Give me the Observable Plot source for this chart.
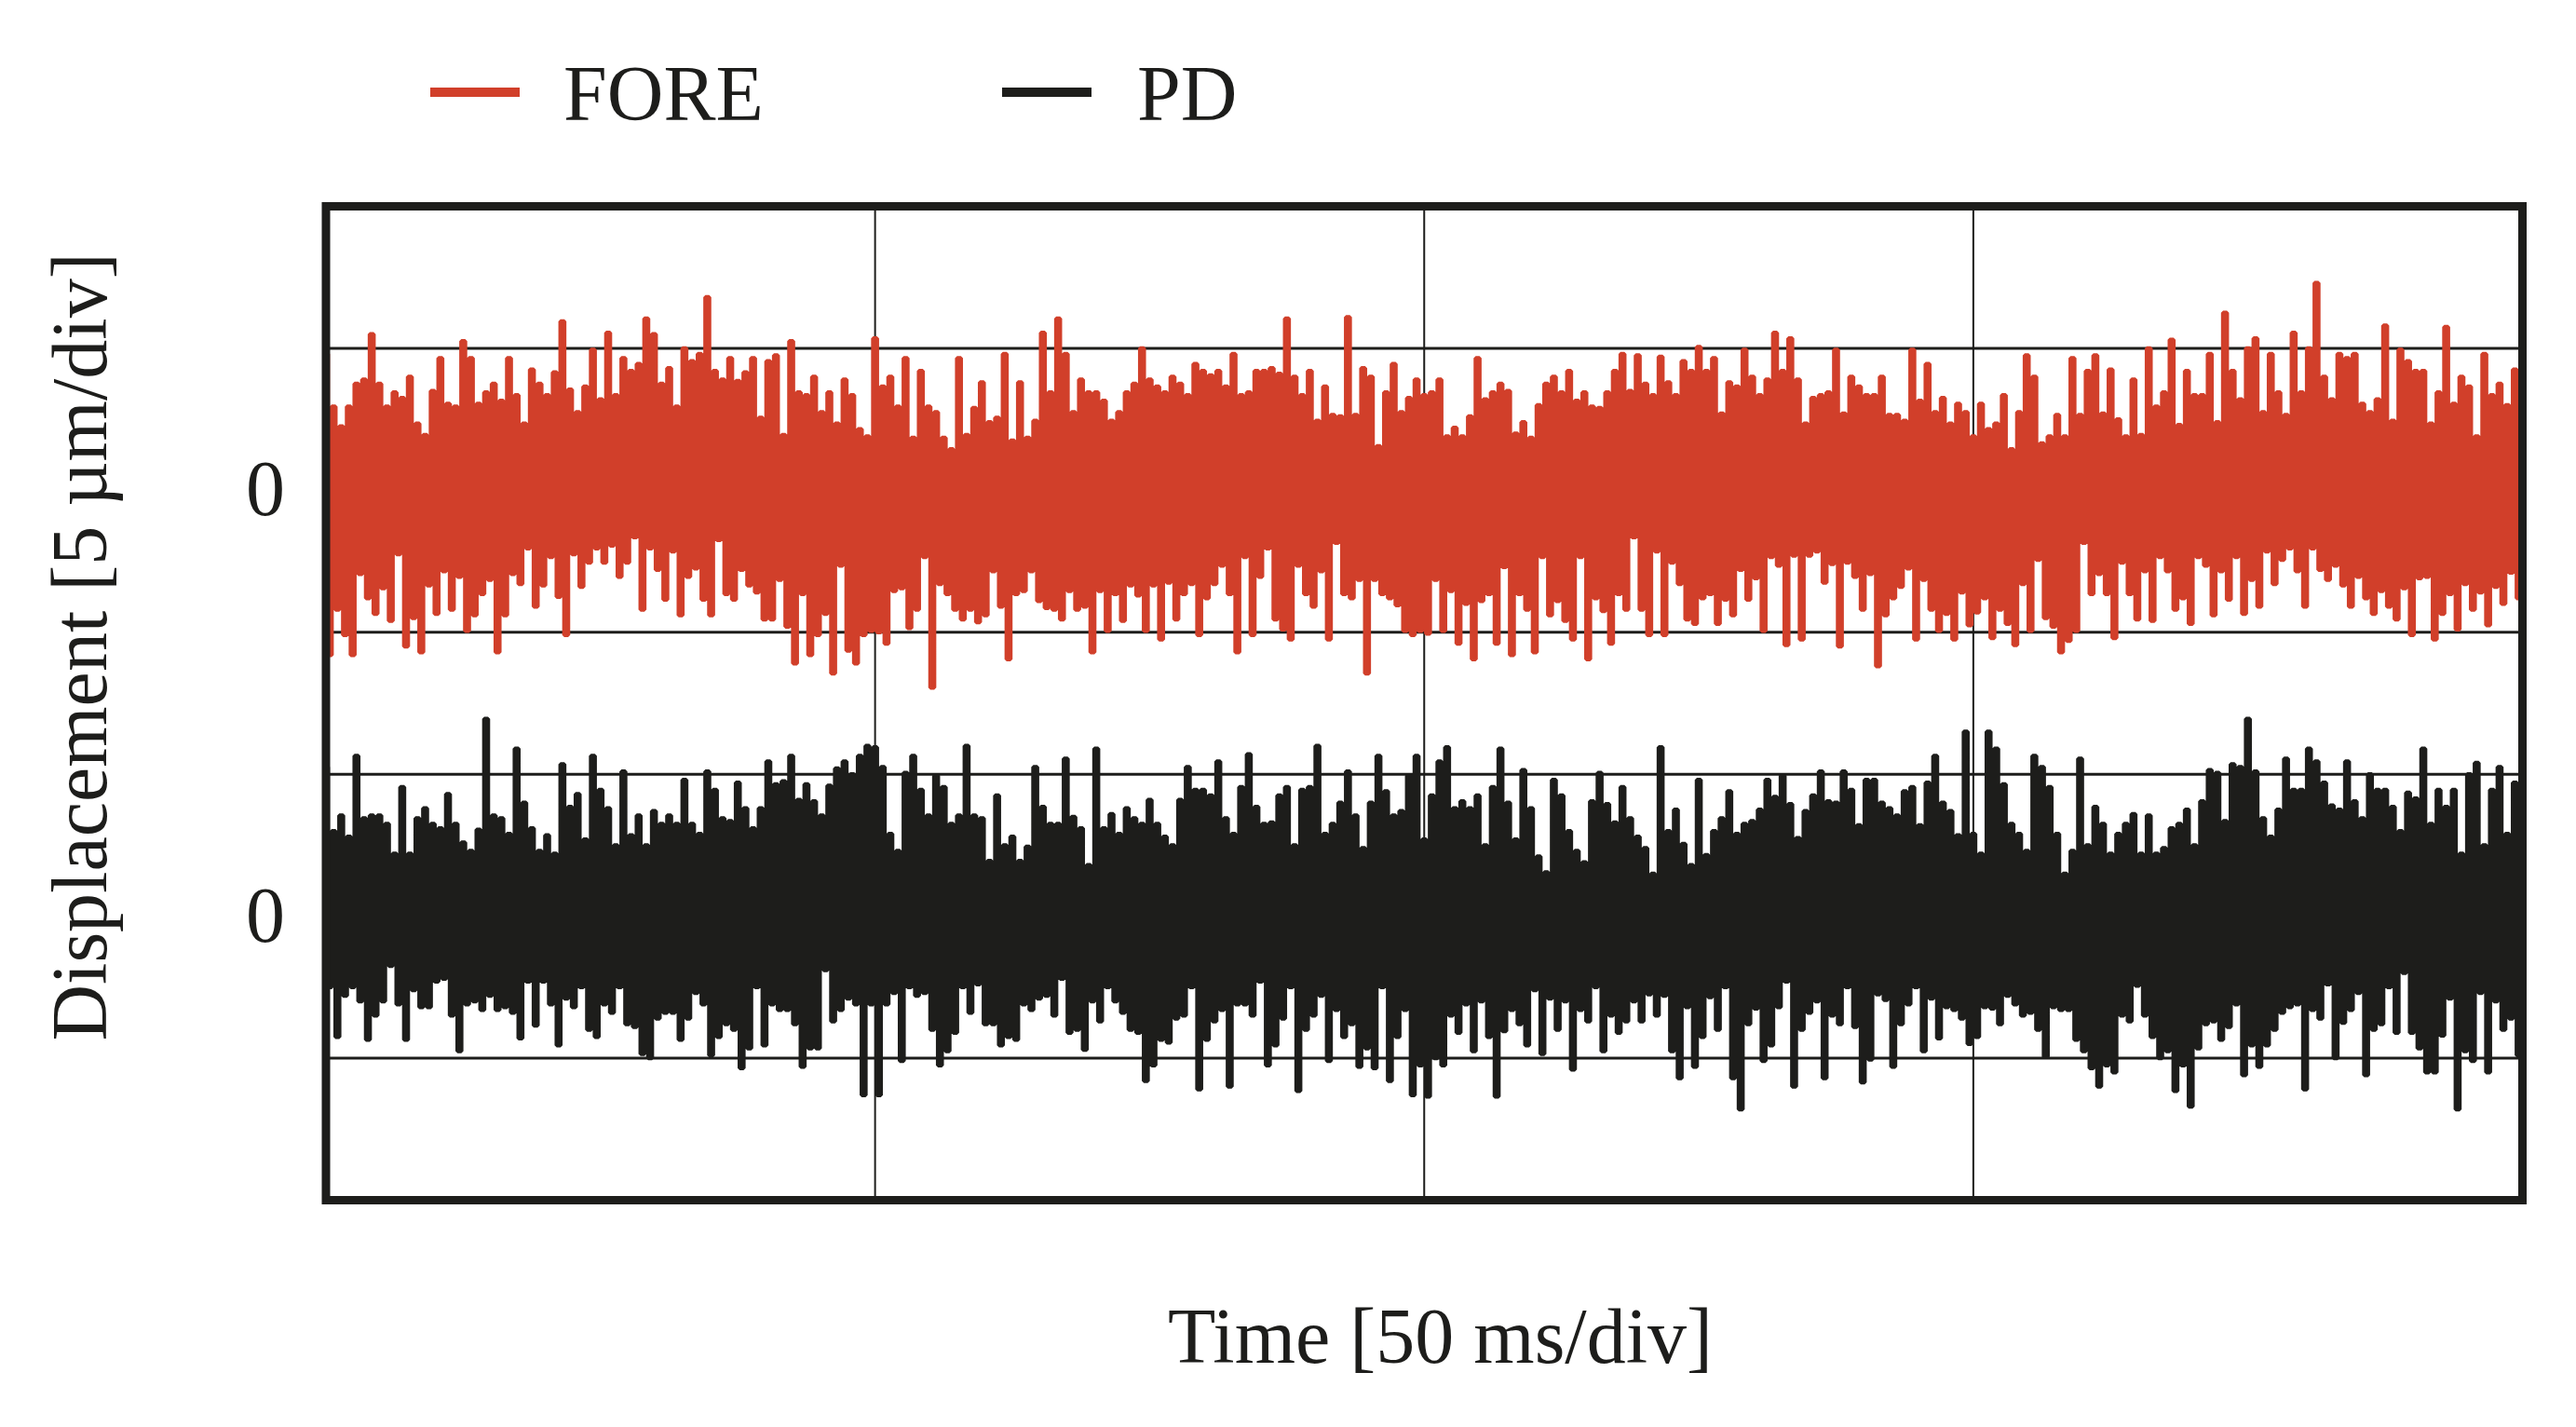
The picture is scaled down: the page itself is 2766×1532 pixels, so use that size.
<!DOCTYPE html>
<html>
<head>
<meta charset="utf-8">
<script src="https://cdn.jsdelivr.net/npm/d3@7"></script>
<script src="https://cdn.jsdelivr.net/npm/@observablehq/plot@0.6"></script>
<style>
  html, body { margin: 0; padding: 0; background: #ffffff; }
  #wrap { position: relative; width: 2766px; height: 1532px; overflow: hidden; }
  #legend { position: absolute; left: 0; top: 0; width: 2766px; height: 200px; z-index: 2;
            font-family: "Liberation Serif", "Times New Roman", serif; color: #1d1d1b; }
  .sw { position: absolute; top: 94px; width: 96px; height: 10px; }
  .lb { position: absolute; top: 59px; font-size: 84px; line-height: 84px; white-space: nowrap; }
</style>
</head>
<body>
<div id="wrap">
  <div id="legend">
    <div class="sw" style="left:462px;background:#d13f2a"></div>
    <div class="lb" style="left:605px">FORE</div>
    <div class="sw" style="left:1076px;background:#1d1d1b"></div>
    <div class="lb" style="left:1221px">PD</div>
  </div>
  <div id="chart"></div>
</div>
<script>
// ---- data (values in 1/100 of a division, 5 µm/div), one spike top + one spike bottom per step ----
const seriesNames = ["FORE", "PD"];
const zeroLevels = [2, 5];          // PD trace centred at division 2, FORE at division 5
const gridLevels = [1, 3, 4, 6];
const timeDivs = [1, 2, 3];
const xLabel = "Time [50 ms/div]";
const yLabel = "Displacement [5 µm/div]";

const foreHiQ1 = [96,59,45,59,75,78,110,75,59,69,65,80,47,39,70,93,61,59,105,93,61,69,75,63,93,67,47,85,75,67,83,119,71,55,73,99,64,111,67,93,84,89,121,110,75,86,59,100,91,96,136,84,78,93,77,83,93,51,91,95,39,105,69,67,80,55,69,47,78,67,43,38];
const foreLoQ1 = [-116,-84,-102,-116,-59,-76,-87,-69,-92,-45,-110,-90,-114,-67,-87,-57,-84,-61,-99,-88,-73,-63,-114,-88,-59,-66,-41,-82,-67,-47,-75,-102,-45,-68,-51,-41,-51,-39,-61,-51,-33,-84,-41,-56,-77,-43,-88,-61,-55,-77,-88,-35,-73,-77,-56,-67,-72,-91,-91,-63,-96,-122,-73,-116,-102,-87,-129,-53,-113,-122,-102,-99];
const foreHiQ2 = [107,73,80,59,93,37,84,59,55,37,29,93,39,58,76,48,51,96,35,76,37,49,111,69,121,96,55,78,69,69,63,49,55,69,75,100,78,73,69,80,75,67,89,84,81,84,73,96,67,69,84,84,86,82,121,80,67,84,49,73,53,52,122,53,86,80,31,69,89,55,65,78];
const foreLoQ2 = [-100,-108,-71,-69,-97,-84,-47,-139,-66,-73,-84,-91,-84,-93,-88,-57,-82,-119,-73,-71,-57,-78,-83,-84,-91,-71,-84,-82,-114,-71,-99,-73,-92,-67,-74,-99,-67,-105,-65,-91,-73,-66,-102,-76,-66,-53,-73,-114,-47,-102,-61,-41,-91,-98,-105,-53,-73,-82,-57,-105,-37,-73,-76,-63,-129,-63,-73,-76,-81,-99,-102,-99];
const foreHiQ3 = [67,69,78,38,44,38,52,93,64,69,75,70,40,48,37,60,75,80,69,84,63,69,59,58,69,84,96,70,95,75,67,94,76,67,91,84,101,84,93,54,76,73,99,80,67,78,111,84,107,78,47,65,67,69,99,54,80,73,67,67,80,53,53,49,99,63,89,55,65,47,61,55];
const foreLoQ3 = [-101,-63,-99,-71,-108,-80,-119,-78,-73,-108,-54,-116,-73,-84,-114,-47,-88,-78,-92,-105,-47,-119,-76,-85,-108,-73,-84,-33,-84,-102,-43,-102,-51,-66,-91,-94,-76,-73,-94,-77,-88,-56,-77,-62,-99,-47,-53,-109,-46,-105,-46,-43,-65,-52,-110,-51,-61,-84,-59,-124,-88,-76,-68,-55,-105,-63,-84,-99,-87,-105,-72,-95];
const foreHiQ4 = [38,61,43,47,67,29,55,95,80,33,38,53,38,93,53,84,95,54,85,50,38,78,39,100,59,69,106,46,84,67,67,96,48,125,84,64,100,107,55,96,69,53,111,69,100,146,80,64,96,93,96,61,55,64,116,49,99,91,84,84,47,69,115,61,80,73,38,96,67,75,60,85];
const foreLoQ4 = [-86,-76,-104,-84,-94,-109,-66,-99,-49,-90,-96,-114,-106,-99,-37,-73,-59,-73,-104,-51,-73,-91,-57,-92,-47,-57,-84,-76,-94,-47,-53,-88,-57,-77,-47,-87,-63,-82,-43,-66,-49,-41,-57,-82,-41,-56,-63,-53,-67,-82,-61,-76,-87,-71,-82,-91,-69,-102,-62,-61,-105,-87,-73,-98,-66,-84,-72,-95,-68,-80,-58,-76];

const pdHiQ1 = [105,60,71,56,113,69,71,71,65,44,91,44,69,76,65,62,86,65,52,46,61,139,71,69,58,118,80,62,46,57,44,107,77,86,54,113,89,76,50,102,57,71,50,74,65,71,65,96,65,58,102,89,69,67,94,76,62,76,109,93,95,113,82,93,81,71,92,104,109,100,113,120];
const pdLoQ1 = [-50,-85,-56,-50,-60,-87,-70,-60,-35,-62,-87,-52,-64,-64,-46,-44,-70,-95,-62,-60,-66,-56,-66,-64,-68,-86,-46,-77,-46,-62,-91,-58,-64,-50,-80,-85,-62,-68,-50,-76,-78,-97,-100,-72,-68,-68,-87,-72,-54,-62,-98,-85,-76,-80,-107,-93,-50,-91,-62,-66,-66,-76,-106,-93,-93,-38,-74,-66,-58,-62,-126,-62];
const pdHiQ2 = [119,105,58,46,101,113,89,71,99,91,65,71,120,71,69,39,85,50,56,39,49,105,77,65,65,111,70,62,36,118,62,72,58,76,69,65,82,65,56,50,82,105,89,89,85,109,69,58,91,114,77,65,66,85,91,50,89,91,120,58,65,80,102,71,48,80,113,88,71,74,99,113];
const pdLoQ2 = [-126,-62,-54,-102,-50,-56,-54,-80,-105,-95,-82,-50,-68,-48,-76,-76,-91,-85,-87,-62,-66,-58,-56,-70,-44,-82,-80,-94,-60,-74,-50,-60,-68,-80,-82,-116,-105,-87,-89,-72,-70,-50,-122,-87,-74,-66,-120,-62,-62,-70,-46,-105,-91,-72,-50,-123,-80,-70,-56,-102,-66,-85,-76,-106,-93,-107,-50,-116,-85,-66,-126,-105];
const pdHiQ3 = [54,85,109,119,76,81,76,85,50,91,118,80,54,103,76,42,31,96,85,60,46,38,81,101,79,66,91,69,56,48,30,119,60,75,51,36,96,43,60,69,88,58,65,67,75,96,84,99,79,55,74,85,102,81,80,102,89,64,96,96,80,76,71,88,91,64,94,113,80,74,57,130];
const pdLoQ3 = [-127,-100,-105,-70,-82,-62,-95,-60,-85,-127,-81,-66,-76,-91,-52,-97,-58,-80,-60,-108,-66,-74,-50,-95,-70,-82,-74,-60,-74,-55,-70,-56,-95,-114,-64,-106,-85,-57,-80,-50,-114,-136,-76,-65,-102,-91,-64,-46,-120,-80,-68,-60,-114,-70,-76,-50,-78,-117,-101,-55,-59,-106,-76,-62,-50,-95,-58,-86,-64,-66,-72,-90];
const pdHiQ4 = [58,44,130,118,93,65,58,46,113,105,91,58,30,46,111,50,77,65,44,58,65,72,44,71,44,48,62,65,75,50,81,103,101,67,107,105,139,102,69,56,75,111,89,89,118,109,94,78,75,109,81,69,100,89,89,77,60,87,83,118,65,89,77,89,44,100,108,50,89,105,58,94];
const pdLoQ4 = [-85,-64,-65,-76,-56,-62,-70,-68,-80,-99,-64,-66,-66,-87,-95,-107,-120,-105,-110,-70,-74,-49,-70,-85,-100,-95,-123,-105,-134,-93,-76,-74,-87,-78,-62,-112,-91,-106,-91,-80,-68,-64,-62,-122,-66,-72,-48,-100,-75,-66,-54,-112,-80,-76,-50,-82,-40,-82,-93,-110,-110,-84,-58,-136,-95,-102,-54,-110,-60,-80,-72,-98];

// ---- build tables: each division (quarter) gets its tops/bottoms interleaved in time ----
function buildSeries(hiQs, loQs, offset) {
  const rows = [];
  hiQs.forEach((hi, q) => {
    const lo = loQs[q];
    const n = hi.length * 2;
    hi.forEach((h, i) => {
      rows.push({t: q + (2 * i) / n, v: offset + h / 100});
      rows.push({t: q + (2 * i + 1) / n, v: offset + lo[i] / 100});
    });
  });
  return rows;
}
const fore = buildSeries([foreHiQ1, foreHiQ2, foreHiQ3, foreHiQ4], [foreLoQ1, foreLoQ2, foreLoQ3, foreLoQ4], zeroLevels[1]);
const pd = buildSeries([pdHiQ1, pdHiQ2, pdHiQ3, pdHiQ4], [pdLoQ1, pdLoQ2, pdLoQ3, pdLoQ4], zeroLevels[0]);

// ---- layout ----
const W = 2766, H = 1532;
const L = 349.5, R = 2708, T = 221, B = 1288;
const frameW = R - L;
const INK = "#1d1d1b", RED = "#d13f2a";
const tickLen = 52;

const chart = Plot.plot({
  width: W,
  height: H,
  marginLeft: L,
  marginRight: W - R,
  marginTop: T,
  marginBottom: H - B,
  style: {
    fontFamily: "'Liberation Serif', 'Times New Roman', serif",
    fontSize: "84px",
    color: INK,
    background: "#ffffff",
    overflow: "visible"
  },
  x: {domain: [0, 4], axis: null},
  y: {domain: [0, 7], ticks: zeroLevels, tickFormat: () => "0", tickSize: 0, tickPadding: 44, label: null},
  marks: [
    Plot.ruleY(gridLevels, {stroke: INK, strokeWidth: 3}),
    Plot.ruleX(timeDivs, {stroke: INK, strokeWidth: 2}),
    Plot.tickY(zeroLevels, {stroke: INK, strokeWidth: 3, insetRight: frameW - tickLen}),
    Plot.tickY(zeroLevels, {stroke: INK, strokeWidth: 3, insetLeft: frameW - tickLen}),
    Plot.line(fore, {x: "t", y: "v", curve: "step", stroke: RED, strokeWidth: 4.5, strokeLinejoin: "miter", strokeLinecap: "butt"}),
    Plot.line(pd, {x: "t", y: "v", curve: "step", stroke: INK, strokeWidth: 4.5, strokeLinejoin: "miter", strokeLinecap: "butt"}),
    Plot.frame({stroke: INK, strokeWidth: 9}),
    Plot.text([yLabel], {text: d => d, frameAnchor: "left", rotate: -90, dx: 113 - L, dy: 694 - (T + B) / 2, lineAnchor: "bottom", textAnchor: "middle", fill: INK}),
    Plot.text([xLabel], {text: d => d, frameAnchor: "bottom", dx: 1546 - (L + R) / 2, dy: 1462 - B, lineAnchor: "bottom", textAnchor: "middle", fill: INK})
  ]
});
document.getElementById("chart").appendChild(chart);
</script>
</body>
</html>
